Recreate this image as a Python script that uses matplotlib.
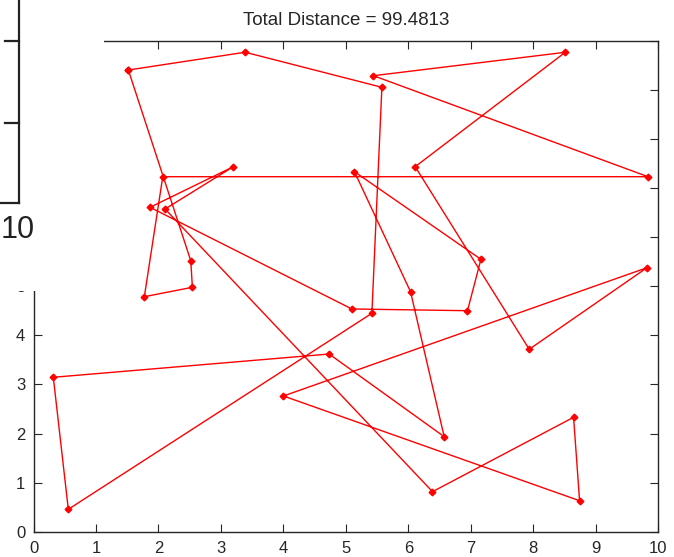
"""Recreate the TSP tour plot (Total Distance = 99.4813) with a partly covering window."""

import matplotlib
matplotlib.use("Agg")
import matplotlib.pyplot as plt
from matplotlib.patches import Rectangle
from matplotlib.lines import Line2D

plt.rcParams["font.family"] = ["Liberation Sans", "DejaVu Sans"]

# Cities in tour order (closed tour: last point returns to the first)
tour_x = [1.518, 3.387, 5.576, 5.416, 0.557, 0.317, 4.732, 6.573, 6.034, 5.137,
          7.161, 6.946, 5.095, 1.865, 3.199, 2.106, 6.386, 8.644, 8.740, 4.000,
          9.819, 7.934, 6.109, 8.511, 5.441, 9.835, 2.069, 1.774, 2.543, 2.517]
tour_y = [9.403, 9.765, 9.051, 4.448, 0.456, 3.145, 3.619, 1.935, 4.888, 7.332,
          5.548, 4.501, 4.536, 6.607, 7.434, 6.572, 0.815, 2.330, 0.631, 2.764,
          5.377, 3.715, 7.434, 9.764, 9.287, 7.230, 7.230, 4.786, 4.978, 5.519]
total_distance = 99.4813

x_ticks = list(range(0, 11))
y_ticks = list(range(0, 11))
# left labels above 5 sit under the covering window
y_labels = [str(v) if v <= 5 else "" for v in y_ticks]

W, H = 674, 557
fig = plt.figure(figsize=(W / 100, H / 100), dpi=100)
ax = fig.add_axes([33.5 / W, 1 - 531.7 / H, (658.3 - 33.5) / W, (531.7 - 40.7) / H])

px = tour_x + tour_x[:1]
py = tour_y + tour_y[:1]
ax.plot(px, py, color="red", linewidth=1.0, marker="D", markersize=3.4,
        markerfacecolor="red", markeredgecolor="red")

ax.set_xlim(0, 10)
ax.set_ylim(0, 10)
ax.set_xticks(x_ticks)
ax.set_yticks(y_ticks)
ax.set_yticklabels(y_labels)
ax.tick_params(direction="in", top=True, right=True, length=5.5, width=0.8,
               labelsize=12, colors="#262626", pad=6)
ax.tick_params(axis="x", pad=7)
for sp in ax.spines.values():
    sp.set_linewidth(1.0)
    sp.set_color("#262626")
ax.set_title(f"Total Distance = {total_distance}", fontsize=13.5, pad=11, color="#262626")

# Another window lying over the top-left corner
def fx(p):
    return p / W


def fy(p):
    return 1 - p / H


fig.add_artist(Rectangle((0, fy(290.5)), fx(103.5), 1 - fy(290.5),
                         transform=fig.transFigure, facecolor="white",
                         edgecolor="none", zorder=10))
dark = "#222222"
fig.add_artist(Line2D([fx(19), fx(19)], [fy(0), fy(203)], transform=fig.transFigure,
                      color=dark, linewidth=1.6, zorder=11))
fig.add_artist(Line2D([fx(0), fx(19)], [fy(203), fy(203)], transform=fig.transFigure,
                      color=dark, linewidth=1.6, zorder=11))
for ty in (40.7, 123.3):
    fig.add_artist(Line2D([fx(5), fx(19)], [fy(ty), fy(ty)], transform=fig.transFigure,
                          color=dark, linewidth=1.6, zorder=11))
fig.text(fx(1), fy(230), "10", fontsize=22, color=dark, ha="left", va="center", zorder=12)

fig.savefig("out.png", dpi=100)
plt.close(fig)
